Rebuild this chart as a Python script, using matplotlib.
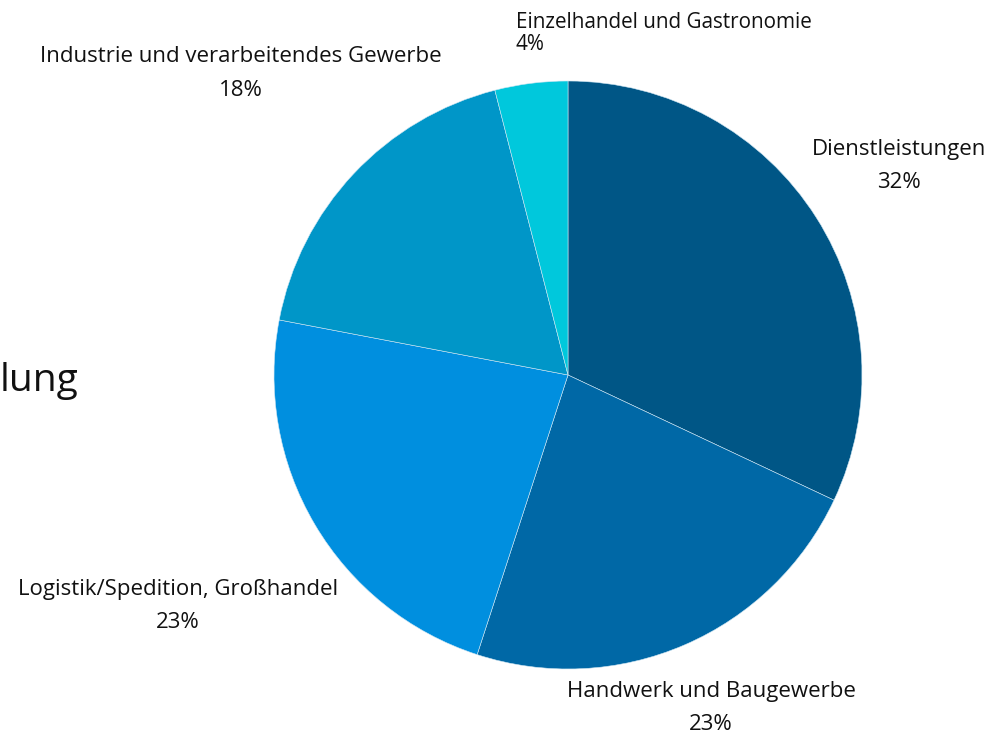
import matplotlib
matplotlib.use("Agg")
import matplotlib.pyplot as plt

# Branchen, clockwise from 12 o'clock
categories = ["Dienstleistungen", "Handwerk und Baugewerbe",
              "Logistik/Spedition, Großhandel",
              "Industrie und verarbeitendes Gewerbe",
              "Einzelhandel und Gastronomie"]
shares = [32, 23, 23, 18, 4]
colors = ["#005686", "#0068a6", "#008fdf", "#0096c8", "#00c8dc"]

W, H = 1000, 733
# label anchor positions in pixels (x, y of first line), alignment
label_pos = [(899, 150, "center"), (711, 691, "center"), (178, 590, "center"),
             (241, 57, "center"), (516, 22, "left")]

plt.rcParams["font.family"] = ["Open Sans", "DejaVu Sans"]

fig = plt.figure(figsize=(W / 100, H / 100), dpi=100)
cx, cy, r = 568, 375, 294
ax = fig.add_axes([(cx - r) / W, (H - cy - r) / H, 2 * r / W, 2 * r / H])
ax.pie(shares, colors=colors, startangle=90, counterclock=False,
       wedgeprops=dict(edgecolor="#cfe6f3", linewidth=0.4))
ax.set_xlim(-1, 1)
ax.set_ylim(-1, 1)
ax.set_aspect("equal")
ax.axis("off")

for name, val, (px, py, ha) in zip(categories, shares, label_pos):
    gap = 23 if ha == "left" else 33
    fs = 14.9 if ha == "left" else 16
    fig.text(px / W, 1 - py / H, name, ha=ha, va="center", fontsize=fs,
             color="#111111")
    fig.text(px / W, 1 - (py + gap) / H, f"{val}%", ha=ha, va="center",
             fontsize=fs, color="#111111")

# title cut off at the left edge
fig.text(0 / W, 1 - 381 / H, "lung", ha="left", va="center", fontsize=28,
         color="#111111")

fig.savefig("out.png", dpi=100)
